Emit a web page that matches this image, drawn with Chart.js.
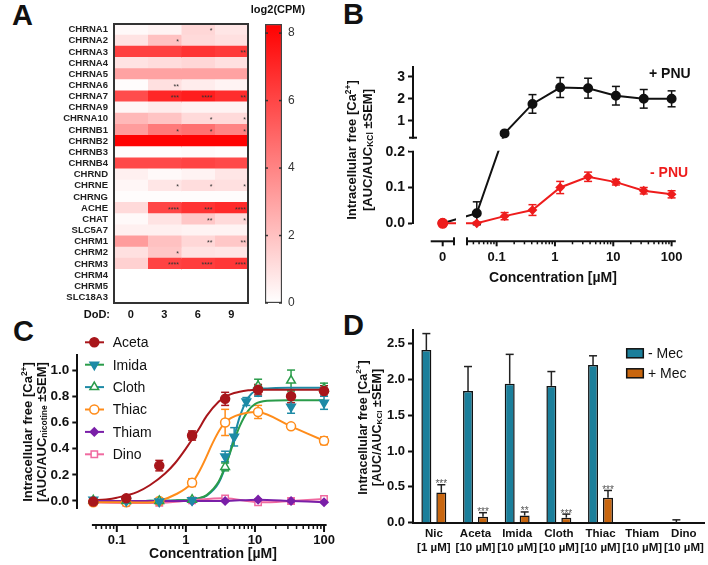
<!DOCTYPE html>
<html>
<head>
<meta charset="utf-8">
<title>nAChR figure</title>
<script src="https://cdn.jsdelivr.net/npm/chart.js@4.4.1/dist/chart.umd.min.js"></script>
<style>
  html, body { margin: 0; padding: 0; background: #fff; }
  body { position: relative; width: 708px; height: 565px; overflow: hidden; font-family: "Liberation Sans", Arial, sans-serif; color: #111; }
  canvas { position: absolute; }
  .txt { position: absolute; white-space: nowrap; font-weight: bold; line-height: 16px; }
  .letter { position: absolute; font-weight: bold; font-size: 29px; line-height: 29px; }
  .ytitle { position: absolute; transform: rotate(-90deg); text-align: center; font-weight: bold; white-space: nowrap; }
  sup, sub { font-size: 65%; line-height: 0; }
  sub { vertical-align: -0.15em; }
</style>
</head>
<body>
<div class="letter" style="left:12px;top:1px">A</div>
<div class="letter" style="left:343px;top:0px">B</div>
<div class="letter" style="left:13px;top:317px">C</div>
<div class="letter" style="left:343px;top:311px">D</div>

<canvas id="heat" width="260" height="330" style="left:0;top:0"></canvas>
<canvas id="cbar" width="90" height="330" style="left:250px;top:0"></canvas>
<canvas id="chartB" width="368" height="260" style="left:340px;top:40px"></canvas>
<canvas id="chartC" width="340" height="235" style="left:0;top:330px"></canvas>
<canvas id="chartD" width="368" height="265" style="left:340px;top:300px"></canvas>

<div class="txt" style="left:228px;top:1px;width:100px;text-align:center;font-size:11px">log2(CPM)</div>
<div class="txt" style="left:649px;top:65px;font-size:14px">+ PNU</div>
<div class="txt" style="left:650px;top:164px;font-size:14px;color:#ee1c1c">- PNU</div>
<div class="txt" style="left:453px;top:269px;width:200px;text-align:center;font-size:14px">Concentration [µM]</div>
<div class="txt" style="left:113px;top:545px;width:200px;text-align:center;font-size:14px">Concentration [µM]</div>
<div class="ytitle" style="left:235px;top:134px;width:250px;height:32px;font-size:13px;line-height:16px">Intracellular free [Ca<sup>2+</sup>]<br>[AUC/AUC<sub>KCl</sub> ±SEM]</div>
<div class="ytitle" style="left:-95px;top:418px;width:260px;height:28px;font-size:13px;line-height:14px">Intracellular free [Ca<sup>2+</sup>]<br>[AUC/AUC<sub>nicotine</sub> ±SEM]</div>
<div class="ytitle" style="left:260px;top:414px;width:220px;height:27px;font-size:12.5px;line-height:13.5px">Intracellular free [Ca<sup>2+</sup>]<br>[AUC/AUC<sub>KCl</sub> ±SEM]</div>

<script>
/* ---------- données ---------- */

// A : heat map log2(CPM)
const genes = ['CHRNA1', 'CHRNA2', 'CHRNA3', 'CHRNA4', 'CHRNA5', 'CHRNA6', 'CHRNA7', 'CHRNA9', 'CHRNA10',
  'CHRNB1', 'CHRNB2', 'CHRNB3', 'CHRNB4', 'CHRND', 'CHRNE', 'CHRNG', 'ACHE', 'CHAT', 'SLC5A7',
  'CHRM1', 'CHRM2', 'CHRM3', 'CHRM4', 'CHRM5', 'SLC18A3'];
const dodLabels = ['0', '3', '6', '9'];
const cpmDoD0 = [0.2, 0.9, 6.2, 0.9, 3.0, 0.1, 5.8, 0.3, 2.3, 3.2, 8.2, 0.1, 5.9, 0.5, 0.3, 0.1, 1.2, 0.2, 0.5, 3.2, 1.0, 1.5, 0, 0, 0];
const cpmDoD3 = [0.4, 2.0, 6.2, 1.1, 3.0, 1.0, 7.0, 0.6, 1.9, 4.3, 8.2, 0.1, 5.9, 0.2, 0.8, 0.1, 6.0, 0.9, 0.5, 2.0, 1.8, 6.1, 0, 0, 0];
const cpmDoD6 = [1.3, 1.2, 6.6, 1.3, 3.0, 0.6, 7.3, 0.4, 1.2, 4.6, 8.2, 0.2, 6.1, 0.4, 1.1, 0.1, 6.6, 1.8, 0.4, 1.3, 0.9, 6.3, 0, 0, 0];
const cpmDoD9 = [0.8, 1.0, 6.4, 1.0, 3.0, 0.4, 6.8, 0.4, 1.2, 4.0, 8.2, 0.1, 5.9, 0.8, 1.0, 0.1, 6.9, 1.2, 0.4, 1.8, 0.8, 6.5, 0, 0, 0];
const sigDoD0 = genes.map(() => '');
const sigDoD3 = ['', '*', '', '', '', '**', '***', '', '', '*', '', '', '', '', '*', '', '****', '', '', '', '*', '****', '', '', ''];
const sigDoD6 = ['*', '', '', '', '', '', '****', '', '*', '*', '', '', '', '', '*', '', '***', '**', '', '**', '', '****', '', '', ''];
const sigDoD9 = ['', '', '**', '', '', '', '**', '', '*', '*', '', '', '', '', '*', '', '****', '*', '', '**', '', '****', '', '', ''];
const cpmMax = 8.27;
const cbTicks = [0, 2, 4, 6, 8];

// B : + / - PNU
const bConc = [0, 0.0457, 0.137, 0.412, 1.23, 3.70, 11.1, 33.3, 100];
const bPlusPNU = [0, 0.028, 0.44, 1.77, 2.51, 2.48, 2.14, 2.00, 2.00];
const bPlusPNUErr = [0, 0.032, 0.05, 0.42, 0.45, 0.45, 0.42, 0.42, 0.36];
const bMinusPNU = [0, 0.0, 0.020, 0.037, 0.100, 0.130, 0.115, 0.091, 0.081];
const bMinusPNUErr = [0, 0.003, 0.010, 0.015, 0.017, 0.013, 0.008, 0.009, 0.010];
const bYTicks = [0, 0.1, 0.2, 1, 2, 3];
const bXMajor = [0, 0.1, 1, 10, 100];
const bXMajorLabels = ['0', '0.1', '1', '10', '100'];
const bXMinor = [0.04, 0.05, 0.06, 0.07, 0.08, 0.09, 0.2, 0.3, 0.4, 0.5, 0.6, 0.7, 0.8, 0.9,
  2, 3, 4, 5, 6, 7, 8, 9, 20, 30, 40, 50, 60, 70, 80, 90];

// C : neonicotinoides
const cConc = [0.0457, 0.137, 0.412, 1.23, 3.70, 11.1, 33.3, 100];
const aceta = [-0.005, 0.02, 0.27, 0.50, 0.78, 0.85, 0.80, 0.84];
const acetaErr = [0.01, 0.02, 0.04, 0.035, 0.05, 0.04, 0.05, 0.04];
const imidaConc = [0.0457, 0.137, 0.412, 1.23, 3.70, 5.0, 7.5, 11.1, 33.3, 100];
const imida = [0.01, 0.0, -0.005, 0.005, 0.34, 0.49, 0.76, 0.84, 0.72, 0.75];
const imidaErr = [0.01, 0.01, 0.01, 0.01, 0.04, 0.07, 0.03, 0.04, 0.05, 0.05];
const cloth = [0.005, 0.0, 0.0, 0.01, 0.26, 0.88, 0.92, 0.86];
const clothErr = [0.01, 0.01, 0.01, 0.01, 0.03, 0.05, 0.08, 0.04];
const thiac = [-0.01, -0.01, 0.0, 0.14, 0.60, 0.68, 0.57, 0.46];
const thiacErr = [0.01, 0.01, 0.01, 0.03, 0.10, 0.05, 0.01, 0.03];
const thiam = [0.0, 0.0, 0.0, 0.0, 0.0, 0.01, 0.0, -0.01];
const dino = [-0.01, -0.015, -0.015, 0.005, 0.02, -0.01, 0.0, 0.015];
const fitConc = [0.045, 0.07, 0.1, 0.2, 0.3, 0.5, 0.7, 1, 1.5, 2, 3, 4, 5, 6, 8, 10, 15, 30, 100];
const acetaFit = [0.005, 0.012, 0.025, 0.07, 0.12, 0.21, 0.29, 0.40, 0.54, 0.65, 0.76, 0.805, 0.825, 0.835, 0.845, 0.85, 0.85, 0.85, 0.85];
const imidaFit = [0, 0, 0, 0, 0.001, 0.002, 0.004, 0.008, 0.02, 0.045, 0.15, 0.31, 0.46, 0.57, 0.69, 0.74, 0.765, 0.77, 0.77];
const clothFit = [0, 0, 0, 0, 0.001, 0.002, 0.004, 0.007, 0.018, 0.04, 0.14, 0.31, 0.49, 0.64, 0.79, 0.84, 0.86, 0.865, 0.865];
const cYTicks = [0, 0.2, 0.4, 0.6, 0.8, 1.0];
const cXMajor = [0.1, 1, 10, 100];
const cXMinor = [0.05, 0.06, 0.07, 0.08, 0.09, 0.2, 0.3, 0.4, 0.5, 0.6, 0.7, 0.8, 0.9,
  2, 3, 4, 5, 6, 7, 8, 9, 20, 30, 40, 50, 60, 70, 80, 90];

// D : mecamylamine
const dCats = [['Nic', '[1 µM]'], ['Aceta', '[10 µM]'], ['Imida', '[10 µM]'], ['Cloth', '[10 µM]'],
  ['Thiac', '[10 µM]'], ['Thiam', '[10 µM]'], ['Dino', '[10 µM]']];
const dMinusMec = [2.41, 1.84, 1.94, 1.91, 2.20, 0, 0.005];
const dMinusMecErr = [0.23, 0.34, 0.41, 0.20, 0.13, 0, 0.035];
const dPlusMec = [0.42, 0.083, 0.10, 0.07, 0.35, 0, 0];
const dPlusMecErr = [0.11, 0.057, 0.05, 0.05, 0.10, 0, 0];
const dPlusSig = ['***', '***', '**', '***', '***', '', ''];
const dYTicks = [0, 0.5, 1.0, 1.5, 2.0, 2.5];

/* ---------- réglages communs ---------- */
const FONT = '"Liberation Sans", Arial, sans-serif';
Chart.defaults.font.family = FONT;
Chart.defaults.color = '#111';
Chart.defaults.responsive = false;
Chart.defaults.animation = false;
Chart.defaults.events = [];
Chart.defaults.plugins.legend.display = false;
Chart.defaults.plugins.tooltip.enabled = false;

function line(ctx, x1, y1, x2, y2) {
  ctx.beginPath(); ctx.moveTo(x1, y1); ctx.lineTo(x2, y2); ctx.stroke();
}

// barres d'erreur (SEM) dessinées à partir des échelles
const errorBarsPlugin = {
  id: 'errorBarsPlugin',
  beforeDatasetsDraw(chart) {
    const ctx = chart.ctx;
    chart.data.datasets.forEach((ds, i) => {
      if (!ds.errorBars) return;
      const meta = chart.getDatasetMeta(i);
      const ys = chart.scales[meta.yAxisID];
      ctx.save();
      ctx.strokeStyle = ds.errorColor || ds.borderColor;
      ctx.lineWidth = 1.5;
      meta.data.forEach((el, j) => {
        const e = ds.errorBars[j];
        if (!e) return;
        const raw = ds.data[j];
        const v = typeof raw === 'number' ? raw : raw.y;
        const top = ys.getPixelForValue(v + e);
        const bot = ds.upperOnly ? ys.getPixelForValue(v) : ys.getPixelForValue(v - e);
        const x = el.x, w = 4;
        line(ctx, x, top, x, bot);
        line(ctx, x - w, top, x + w, top);
        if (!ds.upperOnly) line(ctx, x - w, bot, x + w, bot);
      });
      ctx.restore();
    });
  }
};

/* ---------- A : heat map ---------- */
function heatColor(v) {
  const g = Math.round(255 * (1 - Math.max(0, Math.min(v, cpmMax)) / cpmMax));
  return 'rgb(255,' + g + ',' + g + ')';
}
const cpmByDoD = [cpmDoD0, cpmDoD3, cpmDoD6, cpmDoD9];
const sigByDoD = [sigDoD0, sigDoD3, sigDoD6, sigDoD9];

const heatDecor = {
  id: 'heatDecor',
  afterDatasetsDraw(chart) {
    const { ctx, chartArea: a, scales: { x, y } } = chart;
    ctx.save();
    ctx.font = '7px ' + FONT;
    ctx.fillStyle = '#333';
    ctx.textAlign = 'right';
    ctx.textBaseline = 'alphabetic';
    sigByDoD.forEach((col, c) => col.forEach((s, r) => {
      if (s) ctx.fillText(s, x.getPixelForValue(c + 1) - 2, y.getPixelForValue(r) + 3.5);
    }));
    ctx.lineWidth = 2;
    ctx.strokeStyle = '#333';
    ctx.strokeRect(a.left, a.top, a.width, a.height);
    ctx.font = 'bold 11px ' + FONT;
    ctx.fillStyle = '#111';
    ctx.textBaseline = 'middle';
    ctx.fillText('DoD:', a.left - 4, x.top + 11.5);
    ctx.restore();
  }
};

new Chart(document.getElementById('heat'), {
  type: 'bar',
  data: {
    labels: genes,
    datasets: cpmByDoD.map((vals, c) => ({
      label: 'DoD ' + dodLabels[c],
      data: vals.map(() => [c, c + 1]),
      backgroundColor: vals.map(heatColor),
      borderWidth: 0,
      inflateAmount: 0.5,
      barPercentage: 1,
      categoryPercentage: 1,
      grouped: false
    }))
  },
  options: {
    indexAxis: 'y',
    layout: { padding: { top: 24, right: 12, bottom: 9, left: 0 } },
    scales: {
      y: {
        grid: { display: false, drawTicks: false },
        border: { display: false },
        ticks: { autoSkip: false, padding: 6, color: '#222', font: { size: 9.5, weight: 'bold' } },
        afterFit: s => { s.width = 114; }
      },
      x: {
        min: 0, max: 4, bounds: 'data',
        grid: { display: false, drawTicks: false },
        border: { display: false },
        ticks: { padding: 5, color: '#111', font: { size: 11, weight: 'bold' },
          callback: v => dodLabels[Math.floor(v)] },
        afterBuildTicks: s => { s.ticks = dodLabels.map((d, i) => ({ value: i + 0.5 })); },
        afterFit: s => { s.height = 18; }
      }
    }
  },
  plugins: [heatDecor]
});

// barre de couleur
function cbGradient(c) {
  const ch = c.chart;
  if (!ch.chartArea) return heatColor(cpmMax / 2);
  const ys = ch.scales.y;
  const g = ch.ctx.createLinearGradient(0, ys.getPixelForValue(0), 0, ys.getPixelForValue(cpmMax));
  [0, 0.25, 0.5, 0.75, 1].forEach(t => g.addColorStop(t, heatColor(t * cpmMax)));
  return g;
}
const cbDecor = {
  id: 'cbDecor',
  afterDatasetsDraw(chart) {
    const { ctx, chartArea: a, scales: { y } } = chart;
    ctx.save();
    ctx.strokeStyle = '#333';
    ctx.lineWidth = 1.5;
    cbTicks.forEach(v => {
      const py = y.getPixelForValue(v);
      line(ctx, a.left, py, a.left + 3, py);
      line(ctx, a.right - 3, py, a.right, py);
    });
    ctx.restore();
  }
};
new Chart(document.getElementById('cbar'), {
  type: 'bar',
  data: {
    labels: ['log2(CPM)'],
    datasets: [{ data: [[0, cpmMax]], backgroundColor: cbGradient, borderColor: '#444', borderWidth: 1.5,
      borderSkipped: false, barPercentage: 1, categoryPercentage: 1 }]
  },
  options: {
    layout: { padding: { left: 15, top: 24, bottom: 27, right: 0 } },
    scales: {
      x: { display: false },
      y: {
        position: 'right', min: 0, max: cpmMax, bounds: 'data',
        grid: { display: false, drawTicks: false },
        border: { display: false },
        ticks: { padding: 6, color: '#333', font: { size: 12 } },
        afterBuildTicks: s => { s.ticks = cbTicks.map(v => ({ value: v })); },
        afterFit: s => { s.width = 58; }
      }
    }
  },
  plugins: [cbDecor]
});

/* ---------- B : axes coupés ---------- */
const LinearBase = Chart.LinearScale || Chart.registry.getScale('linear');

class BrokenYScale extends LinearBase {
  _frac(v) {
    const b = this.options.brk;
    const total = b.lowSize + b.gapSize + b.highSize;
    if (v <= b.lowMax) return (v - this.min) / (b.lowMax - this.min) * b.lowSize / total;
    if (v >= b.highMin) return (b.lowSize + b.gapSize + (v - b.highMin) / (this.max - b.highMin) * b.highSize) / total;
    return (b.lowSize + (v - b.lowMax) / (b.highMin - b.lowMax) * b.gapSize) / total;
  }
  getPixelForValue(v) {
    if (v === null || isNaN(v)) return NaN;
    return this.bottom - this._frac(v) * (this.bottom - this.top);
  }
  getValueForPixel() { return this.min; }
}
BrokenYScale.id = 'brokenY';
BrokenYScale.defaults = {};

class BrokenLogXScale extends LinearBase {
  getPixelForValue(v) {
    if (v === null || isNaN(v)) return NaN;
    const b = this.options.brk;
    let f;
    if (v <= 0) f = b.zeroFrac;
    else f = b.logStartFrac + (Math.log10(v) - b.logStart) / (b.logEnd - b.logStart) * (1 - b.logStartFrac);
    return this.left + f * this.width;
  }
  getValueForPixel() { return 0; }
}
BrokenLogXScale.id = 'brokenLogX';
BrokenLogXScale.defaults = {};
Chart.register(BrokenYScale, BrokenLogXScale);

const bRed = '#ee1c1c';
const bAxisDecor = {
  id: 'bAxisDecor',
  afterDatasetsDraw(chart) {
    const { ctx, chartArea: a, scales: { x, y } } = chart;
    const bx = x.options.brk, by = y.options.brk;
    const px = f => a.left + f * a.width;
    ctx.save();
    // trous des axes coupés
    ctx.fillStyle = '#fff';
    const gTop = y.getPixelForValue(by.highMin), gBot = y.getPixelForValue(by.lowMax);
    ctx.fillRect(a.left - 4, gTop + 1, a.width + 8, gBot - gTop - 2);
    const xg0 = px(bx.leftSeg[1]) + 2, xg1 = px(bx.logStartFrac) - 1;
    ctx.fillRect(xg0, a.top, xg1 - xg0, a.height + 4);
    ctx.strokeStyle = '#111';
    ctx.lineWidth = 2;
    line(ctx, a.left - 4, gTop, a.left + 4, gTop);
    // axe des x
    const ay = a.bottom + 18;
    line(ctx, px(bx.leftSeg[0]), ay, px(bx.leftSeg[1]), ay);
    line(ctx, px(bx.logStartFrac), ay, x.getPixelForValue(118), ay);
    line(ctx, px(bx.leftSeg[1]), ay - 4, px(bx.leftSeg[1]), ay + 4);
    line(ctx, px(bx.logStartFrac), ay - 4, px(bx.logStartFrac), ay + 4);
    ctx.lineWidth = 1.5;
    bXMinor.forEach(v => { const p = x.getPixelForValue(v); line(ctx, p, ay, p, ay + 3); });
    ctx.lineWidth = 2;
    ctx.font = 'bold 13px ' + FONT;
    ctx.fillStyle = '#111';
    ctx.textAlign = 'center';
    ctx.textBaseline = 'middle';
    bXMajor.forEach((v, i) => {
      const p = x.getPixelForValue(v);
      line(ctx, p, ay, p, ay + 5);
      ctx.fillText(bXMajorLabels[i], p, ay + 16);
    });
    ctx.restore();
  }
};

new Chart(document.getElementById('chartB'), {
  type: 'line',
  data: {
    datasets: [
      { label: '- PNU', data: bConc.map((c, i) => ({ x: c, y: bMinusPNU[i] })), errorBars: bMinusPNUErr,
        borderColor: bRed, backgroundColor: bRed, pointBackgroundColor: bRed, pointBorderColor: bRed,
        pointStyle: bConc.map(c => c === 0 ? 'circle' : 'rectRot'), pointRadius: bConc.map(c => c === 0 ? 4.5 : 3.5),
        borderWidth: 2, clip: false },
      { label: '+ PNU', data: bConc.map((c, i) => ({ x: c, y: bPlusPNU[i] })), errorBars: bPlusPNUErr,
        borderColor: '#111', backgroundColor: '#111', pointBackgroundColor: '#111', pointBorderColor: '#111',
        pointRadius: 4, borderWidth: 2, clip: false }
    ]
  },
  options: {
    layout: { padding: { top: 26.7, right: 28, bottom: 76.7, left: 0 } },
    scales: {
      x: { type: 'brokenLogX', display: false, min: 0, max: 120, bounds: 'data',
        brk: { zeroFrac: 0.1112, logStartFrac: 0.2022, logStart: -1.508, logEnd: 2.144, leftSeg: [0.0663, 0.1536] } },
      y: { type: 'brokenY', min: 0, max: 3.45, bounds: 'data',
        brk: { lowMax: 0.2, highMin: 0.245, lowSize: 71.6, gapSize: 14, highSize: 71 },
        afterBuildTicks: s => { s.ticks = bYTicks.map(v => ({ value: v })); },
        afterFit: s => { s.width = 73; },
        border: { color: '#111', width: 2 },
        grid: { drawOnChartArea: false, tickLength: 5, tickWidth: 2, tickColor: '#111' },
        ticks: { autoSkip: false, padding: 3, color: '#111', font: { size: 14, weight: 'bold' },
          callback: v => v < 0.5 ? v.toFixed(1) : String(v) } }
    }
  },
  plugins: [errorBarsPlugin, bAxisDecor]
});

/* ---------- C : courbes dose-réponse ---------- */
const cColors = { aceta: '#a8161b', imida: '#2a9c4a', cloth: '#1d8aa6', thiac: '#ff8c1a', thiam: '#7a1fa8', dino: '#f06aa0' };

function pointSet(label, xs, ys, errs, color, marker, lineColor, showLine) {
  return {
    label: label,
    data: xs.map((x, i) => ({ x: x, y: ys[i] })),
    errorBars: errs,
    legendLine: lineColor,
    borderColor: color,
    backgroundColor: color,
    pointBackgroundColor: marker.open ? '#fff' : color,
    pointBorderColor: color,
    pointStyle: marker.shape,
    pointRotation: marker.rotation || 0,
    pointRadius: marker.radius || 4.5,
    pointBorderWidth: 1.5,
    showLine: showLine,
    borderWidth: 2,
    tension: 0.3,
    clip: false
  };
}
function fitSet(label, ys, color) {
  return {
    label: label,
    data: fitConc.map((x, i) => ({ x: x, y: ys[i] })),
    borderColor: color,
    borderWidth: 2,
    pointRadius: 0,
    cubicInterpolationMode: 'monotone',
    clip: false
  };
}
const cDatasets = [
  pointSet('Aceta', cConc, aceta, acetaErr, cColors.aceta, { shape: 'circle' }, cColors.aceta, false),
  pointSet('Imida', imidaConc, imida, imidaErr, cColors.cloth, { shape: 'triangle', rotation: 180, radius: 5 }, cColors.imida, false),
  pointSet('Cloth', cConc, cloth, clothErr, cColors.imida, { shape: 'triangle', open: true, radius: 5 }, cColors.cloth, false),
  pointSet('Thiac', cConc, thiac, thiacErr, cColors.thiac, { shape: 'circle', open: true }, cColors.thiac, true),
  pointSet('Thiam', cConc, thiam, null, cColors.thiam, { shape: 'rectRot', radius: 4 }, cColors.thiam, true),
  pointSet('Dino', cConc, dino, null, cColors.dino, { shape: 'rect', open: true }, cColors.dino, true),
  fitSet('Aceta fit', acetaFit, cColors.aceta),
  fitSet('Imida fit', imidaFit, cColors.imida),
  fitSet('Cloth fit', clothFit, cColors.cloth)
];

function drawMarker(ctx, ds, x, y) {
  ctx.fillStyle = ds.pointBackgroundColor;
  ctx.strokeStyle = ds.pointBorderColor;
  ctx.lineWidth = ds.pointBorderWidth;
  if (Chart.helpers && Chart.helpers.drawPoint) {
    Chart.helpers.drawPoint(ctx, { pointStyle: ds.pointStyle, rotation: ds.pointRotation, radius: ds.pointRadius, borderWidth: ds.pointBorderWidth }, x, y);
  } else {
    ctx.beginPath(); ctx.arc(x, y, ds.pointRadius, 0, 2 * Math.PI); ctx.fill(); ctx.stroke();
  }
}

const cDecor = {
  id: 'cDecor',
  afterDraw(chart) {
    const { ctx, chartArea: a, scales: { x } } = chart;
    ctx.save();
    // axe des x décalé
    const ay = a.bottom + 16.7;
    ctx.strokeStyle = '#111';
    ctx.lineWidth = 2;
    line(ctx, x.getPixelForValue(0.0436), ay, x.getPixelForValue(109), ay);
    ctx.lineWidth = 1.5;
    cXMinor.forEach(v => { const p = x.getPixelForValue(v); line(ctx, p, ay, p, ay + 4); });
    ctx.lineWidth = 2;
    ctx.font = 'bold 13px ' + FONT;
    ctx.fillStyle = '#111';
    ctx.textAlign = 'center';
    ctx.textBaseline = 'middle';
    cXMajor.forEach(v => {
      const p = x.getPixelForValue(v);
      line(ctx, p, ay, p, ay + 7);
      ctx.fillText(String(v), p, ay + 15.5);
    });
    // légende
    ctx.font = '14px ' + FONT;
    ctx.textAlign = 'left';
    chart.data.datasets.slice(0, 6).forEach((ds, k) => {
      const ly = 12.3 + k * 22.4;
      ctx.strokeStyle = ds.legendLine;
      ctx.lineWidth = 2;
      line(ctx, 85, ly, 104, ly);
      drawMarker(ctx, ds, 94.3, ly);
      ctx.fillStyle = '#111';
      ctx.fillText(ds.label, 112.7, ly + 1);
    });
    ctx.restore();
  }
};

new Chart(document.getElementById('chartC'), {
  type: 'line',
  data: { datasets: cDatasets },
  options: {
    layout: { padding: { top: 25, right: 10, bottom: 56.7, left: 0 } },
    scales: {
      x: { type: 'logarithmic', display: false, min: 0.0268, max: 122 },
      y: {
        min: -0.056, max: 1.115, bounds: 'data',
        afterBuildTicks: s => { s.ticks = cYTicks.map(v => ({ value: v })); },
        afterFit: s => { s.width = 77.3; },
        border: { color: '#111', width: 2 },
        grid: { drawOnChartArea: false, tickLength: 5, tickWidth: 2, tickColor: '#111' },
        ticks: { autoSkip: false, padding: 3, color: '#111', font: { size: 13.5, weight: 'bold' }, callback: v => v.toFixed(1) }
      }
    }
  },
  plugins: [errorBarsPlugin, cDecor]
});

/* ---------- D : histogramme ---------- */
const dBlue = '#1b7f9b';
const dOrange = '#c8660f';
const dDecor = {
  id: 'dDecor',
  afterDraw(chart) {
    const { ctx, scales: { y } } = chart;
    ctx.save();
    // étoiles au-dessus de + Mec
    const meta = chart.getDatasetMeta(1);
    ctx.font = '10px ' + FONT;
    ctx.fillStyle = '#555';
    ctx.textAlign = 'center';
    ctx.textBaseline = 'alphabetic';
    meta.data.forEach((el, j) => {
      if (!dPlusSig[j]) return;
      ctx.fillText(dPlusSig[j], el.x, y.getPixelForValue(dPlusMec[j] + dPlusMecErr[j]) + 2.5);
    });
    // légende
    ctx.font = '14px ' + FONT;
    ctx.fillStyle = '#111';
    ctx.textAlign = 'left';
    ctx.textBaseline = 'middle';
    chart.data.datasets.forEach((ds, k) => {
      const ly = 53.3 + k * 20;
      ctx.fillStyle = ds.backgroundColor;
      ctx.fillRect(286.7, ly - 4.5, 16.6, 9);
      ctx.strokeStyle = '#111';
      ctx.lineWidth = 1.5;
      ctx.strokeRect(286.7, ly - 4.5, 16.6, 9);
      ctx.fillStyle = '#111';
      ctx.fillText(ds.label, 308, ly + 1);
    });
    ctx.restore();
  }
};

new Chart(document.getElementById('chartD'), {
  type: 'bar',
  data: {
    labels: dCats,
    datasets: [
      { label: '- Mec', data: dMinusMec, errorBars: dMinusMecErr, upperOnly: true, errorColor: '#222',
        backgroundColor: dBlue, borderColor: '#111', borderWidth: dMinusMec.map(v => v > 0.02 ? 1.5 : 0),
        barPercentage: 0.667, categoryPercentage: 0.718 },
      { label: '+ Mec', data: dPlusMec, errorBars: dPlusMecErr, upperOnly: true, errorColor: '#222',
        backgroundColor: dOrange, borderColor: '#111', borderWidth: dPlusMec.map(v => v > 0.02 ? 1.5 : 0),
        barPercentage: 0.667, categoryPercentage: 0.718 }
    ]
  },
  options: {
    layout: { padding: { top: 30, right: 3, bottom: 0, left: 0 } },
    scales: {
      x: {
        grid: { display: false, drawTicks: false },
        border: { color: '#111', width: 2 },
        ticks: { autoSkip: false, maxRotation: 0, padding: 4, color: '#111', font: { size: 11.5, weight: 'bold' } },
        afterFit: s => { s.height = 42.3; }
      },
      y: {
        min: 0, max: 2.69, bounds: 'data',
        afterBuildTicks: s => { s.ticks = dYTicks.map(v => ({ value: v })); },
        afterFit: s => { s.width = 73; },
        border: { color: '#111', width: 2 },
        grid: { drawOnChartArea: false, tickLength: 5, tickWidth: 2, tickColor: '#111' },
        ticks: { autoSkip: false, padding: 3, color: '#111', font: { size: 13, weight: 'bold' }, callback: v => v.toFixed(1) }
      }
    }
  },
  plugins: [errorBarsPlugin, dDecor]
});
</script>
</body>
</html>
